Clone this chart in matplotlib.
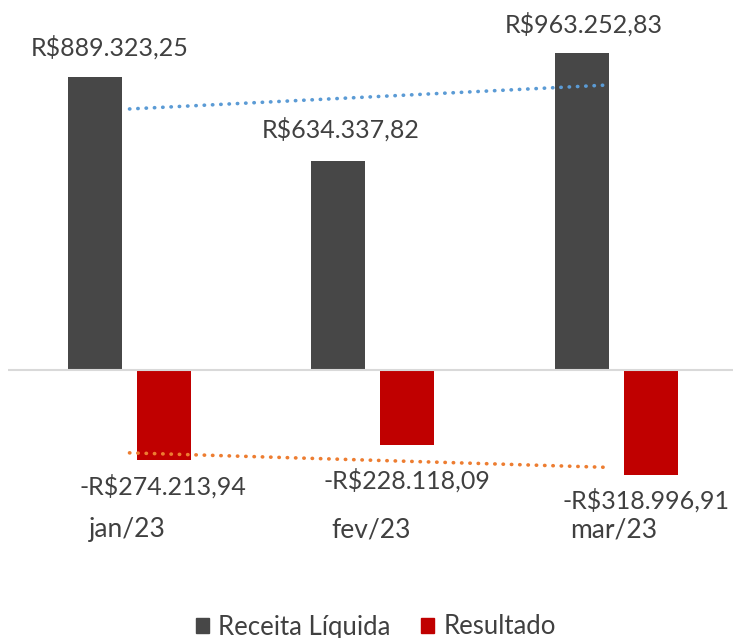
import matplotlib
matplotlib.use("Agg")
import matplotlib.pyplot as plt
import numpy as np
from matplotlib.patches import Patch

plt.rcParams['font.family'] = ['Lato', 'DejaVu Sans']

categories = ["jan/23", "fev/23", "mar/23"]
receita = [889323.25, 634337.82, 963252.83]
resultado = [-274213.94, -228118.09, -318996.91]
receita_labels = ["R$889.323,25", "R$634.337,82", "R$963.252,83"]
resultado_labels = ["-R$274.213,94", "-R$228.118,09", "-R$318.996,91"]
series_names = ["Receita Líquida", "Resultado"]

W, H = 733, 638
fig = plt.figure(figsize=(W / 100, H / 100), dpi=100)
ax = fig.add_axes([0, 0, 1, 1])

# pixel mapping
px_per_cat = 243.25
x0_px = 129.5
zero_px = 370
units_per_px = 3034.0
ax.set_xlim(-x0_px / px_per_cat, (W - x0_px) / px_per_cat)
ax.set_ylim(-(H - zero_px) * units_per_px, zero_px * units_per_px)
ax.axis("off")

x = np.arange(len(categories))
bw = 54 / px_per_cat
off = 34.5 / px_per_cat
c_rec = "#474747"
c_res = "#c00000"
ax.bar(x - off, receita, bw, color=c_rec, zorder=2)
ax.bar(x + off, resultado, bw, color=c_res, zorder=2)

# zero line
ax.plot([(8 - x0_px) / px_per_cat, (W - x0_px) / px_per_cat], [0, 0],
        color="#d9d9d9", lw=1.5, zorder=3, solid_capstyle="butt")

# linear trendlines
for vals, col in [(receita, "#5b9bd5"), (resultado, "#ed7d31")]:
    k, b = np.polyfit(x, vals, 1)
    xs = np.array([0, 2 - 8 / px_per_cat])
    ax.plot(xs, k * xs + b, color=col, lw=2.6, ls=(0, (0.1, 2.2)),
            dash_capstyle="round", zorder=4)

txt_col = "#404040"
fs = 18
rec_dx = [15, 2, 2]
rec_dy = [30, 32, 28]
for i, (v, t) in enumerate(zip(receita, receita_labels)):
    ax.text(x[i] - off + rec_dx[i] / px_per_cat, v + rec_dy[i] * units_per_px, t,
            ha="center", va="center", fontsize=fs, color=txt_col)
res_dx = [-1, 0, -5]
res_dy = [26, 35, 25]
for i, (v, t) in enumerate(zip(resultado, resultado_labels)):
    ax.text(x[i] + off + res_dx[i] / px_per_cat, v - res_dy[i] * units_per_px, t,
            ha="center", va="center", fontsize=fs, color=txt_col)

for i, c in enumerate(categories):
    ax.text(x[i] - 2 / px_per_cat, -(530 - zero_px) * units_per_px, c,
            ha="center", va="center", fontsize=19, color=txt_col)

handles = [Patch(color=c_rec), Patch(color=c_res)]
fig.legend(handles, series_names, loc="center", bbox_to_anchor=(376 / W, 1 - 627 / H),
           ncol=2, frameon=False, handlelength=0.5, handleheight=0.5,
           handletextpad=0.35, columnspacing=1.2,
           prop={"size": 18.5}, labelcolor=txt_col)

fig.savefig("out.png", dpi=100)
